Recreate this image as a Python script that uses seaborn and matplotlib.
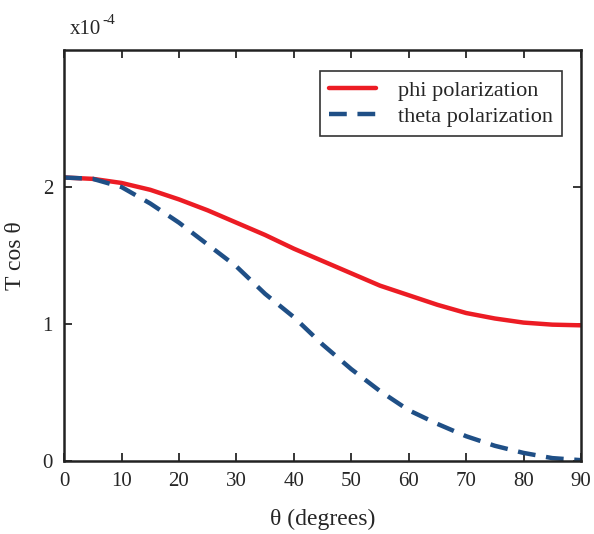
import pandas as pd
import matplotlib.pyplot as plt
import seaborn as sns

# Dữ liệu
theta_deg = [0, 5, 10, 15, 20, 25, 30, 35, 40, 45, 50, 55, 60, 65, 70, 75, 80, 85, 90]
phi_pol = [2.07, 2.06, 2.03, 1.98, 1.91, 1.83, 1.74, 1.65, 1.55, 1.46, 1.37, 1.28,
           1.21, 1.14, 1.08, 1.04, 1.01, 0.995, 0.99]
theta_pol = [2.07, 2.06, 2.00, 1.88, 1.74, 1.58, 1.42, 1.22, 1.05, 0.85, 0.67, 0.51,
             0.37, 0.27, 0.18, 0.11, 0.058, 0.02, 0.005]

df = pd.DataFrame({
    'theta': theta_deg * 2,
    'val': phi_pol + theta_pol,
    'kind': ['phi polarization'] * len(theta_deg) + ['theta polarization'] * len(theta_deg),
})

sns.set_style('ticks')
plt.rcParams['font.family'] = ['Liberation Serif', 'DejaVu Serif']

fig = plt.figure(figsize=(5.94, 5.34), dpi=100)
ax = fig.add_axes([0.108, 0.137, 0.870, 0.769])

palette = {'phi polarization': '#ec1c24', 'theta polarization': '#1f4f86'}
sns.lineplot(data=df, x='theta', y='val', hue='kind', style='kind', palette=palette,
             dashes={'phi polarization': '', 'theta polarization': (4, 2.4)},
             linewidth=3.2, ax=ax)

ax.set_xlim(0, 90)
ax.set_ylim(0, 3)
ax.set_xticks(range(0, 91, 10))
ax.set_yticks([0, 1, 2])
ax.tick_params(direction='in', top=True, right=True, length=6, width=1.3,
               labelsize=15, pad=8)
for s in ax.spines.values():
    s.set_linewidth(1.8)
    s.set_color('#222222')

ax.set_xlabel('θ (degrees)', fontsize=17, labelpad=13)
ax.set_ylabel('T cos θ', fontsize=17, labelpad=12)

leg = ax.legend(loc='upper right', bbox_to_anchor=(0.985, 0.976), fontsize=16,
                frameon=True, fancybox=False, handlelength=2.1, borderpad=0.4,
                labelspacing=0.25, handletextpad=1.0)
leg.get_frame().set_edgecolor('black')
leg.get_frame().set_linewidth(1.2)

fig.text(0.118, 0.945, 'x10', fontsize=15, ha='left', va='center')
fig.text(0.173, 0.962, '-4', fontsize=11, ha='left', va='center')

fig.savefig('out.png', dpi=100)
